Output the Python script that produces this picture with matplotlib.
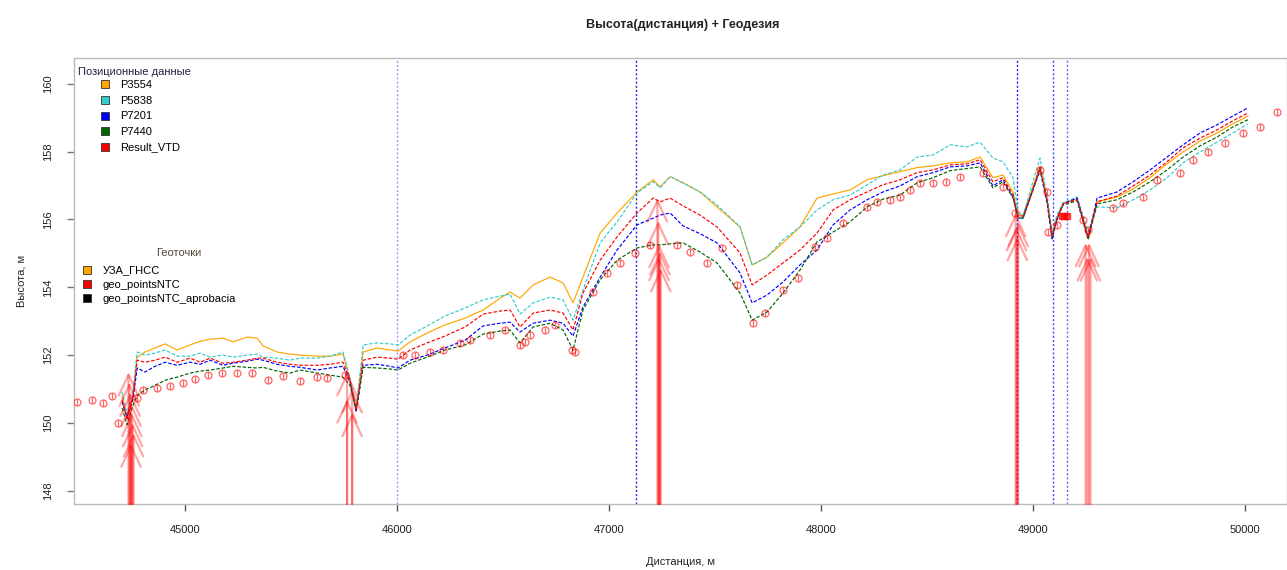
import matplotlib
matplotlib.use("Agg")
import matplotlib.pyplot as plt
from matplotlib.lines import Line2D

plt.rcParams['font.family'] = ['Liberation Sans', 'DejaVu Sans']

# ---- Positional data (distance, m) shared by all height profiles ----
distance = [44703, 44726, 44755, 44774, 44811, 44858, 44906, 44962, 45024, 45071,
            45118, 45179, 45226, 45292, 45340, 45368, 45434, 45495, 45542, 45623,
            45684, 45745, 45778, 45807, 45840, 45906, 45967, 46005, 46061, 46142,
            46226, 46321, 46406, 46486, 46533, 46580, 46642, 46722, 46783, 46830,
            46877, 46958, 47038, 47132, 47208, 47241, 47288, 47349, 47429, 47509,
            47618, 47675, 47745, 47821, 47901, 47981, 48057, 48137, 48217, 48292,
            48373, 48453, 48528, 48609, 48689, 48750, 48811, 48858, 48906, 48929,
            48953, 48995, 49033, 49066, 49090, 49113, 49142, 49208, 49260, 49302,
            49396, 49472, 49552, 49632, 49708, 49788, 49868, 49943, 50014]

h_P3554 = [150.79, 150.17, 150.82, 151.94, 152.09, 152.21, 152.33, 152.15, 152.30, 152.41,
           152.47, 152.50, 152.39, 152.53, 152.50, 152.27, 152.09, 152.03, 152.00, 151.97,
           151.97, 152.03, 151.26, 150.44, 152.09, 152.21, 152.15, 152.12, 152.39, 152.65,
           152.89, 153.09, 153.33, 153.68, 153.86, 153.68, 154.07, 154.30, 154.13, 153.54,
           154.30, 155.60, 156.19, 156.81, 157.17, 156.96, 157.26, 157.08, 156.81, 156.37,
           155.78, 154.66, 154.89, 155.31, 155.78, 156.63, 156.75, 156.87, 157.17, 157.29,
           157.41, 157.53, 157.58, 157.67, 157.70, 157.84, 157.23, 157.31, 156.81, 156.10,
           156.13, 156.87, 157.58, 156.58, 155.52, 156.04, 156.49, 156.60, 155.49, 156.52,
           156.66, 156.90, 157.23, 157.64, 157.99, 158.31, 158.55, 158.82, 159.05]

h_P5838 = [150.91, 150.26, 150.97, 152.09, 152.00, 152.06, 152.15, 151.97, 151.97, 152.06,
           151.94, 152.00, 151.94, 152.00, 152.03, 151.94, 151.91, 151.85, 151.91, 151.91,
           151.97, 152.09, 151.32, 150.44, 152.30, 152.36, 152.33, 152.30, 152.59, 152.86,
           153.15, 153.39, 153.63, 153.74, 153.80, 153.21, 153.54, 153.71, 153.63, 153.03,
           153.92, 155.31, 155.93, 156.78, 157.11, 156.93, 157.26, 157.08, 156.81, 156.43,
           155.78, 154.66, 154.89, 155.40, 155.78, 156.28, 156.58, 156.72, 157.02, 157.31,
           157.46, 157.84, 157.90, 158.20, 158.14, 158.28, 157.81, 157.70, 157.23, 156.22,
           156.10, 157.02, 157.81, 156.72, 155.63, 156.13, 156.49, 156.66, 155.63, 156.37,
           156.34, 156.58, 156.87, 157.23, 157.67, 157.99, 158.28, 158.55, 158.82]

h_P7201 = [150.62, 150.17, 150.73, 151.62, 151.50, 151.67, 151.79, 151.70, 151.79, 151.73,
           151.85, 151.70, 151.76, 151.82, 151.88, 151.85, 151.73, 151.67, 151.64, 151.56,
           151.62, 151.67, 151.20, 150.32, 151.70, 151.73, 151.67, 151.62, 151.85, 152.00,
           152.21, 152.44, 152.86, 152.94, 152.97, 152.68, 152.94, 153.03, 152.94, 152.56,
           153.42, 154.30, 155.10, 155.84, 156.04, 156.13, 156.19, 155.81, 155.58, 155.31,
           154.42, 153.54, 153.77, 154.16, 154.66, 155.10, 155.84, 156.28, 156.58, 156.81,
           156.99, 157.26, 157.38, 157.55, 157.58, 157.67, 156.99, 157.17, 156.66, 156.04,
           156.04, 156.78, 157.46, 156.49, 155.43, 155.99, 156.46, 156.63, 155.46, 156.63,
           156.81, 157.11, 157.46, 157.84, 158.20, 158.55, 158.79, 159.05, 159.29]

h_P7440 = [150.44, 149.95, 150.53, 150.82, 150.97, 151.11, 151.26, 151.35, 151.47, 151.53,
           151.56, 151.62, 151.67, 151.64, 151.62, 151.64, 151.53, 151.47, 151.56, 151.47,
           151.41, 151.35, 151.11, 150.38, 151.64, 151.62, 151.59, 151.56, 151.76, 151.94,
           152.15, 152.30, 152.62, 152.71, 152.74, 152.36, 152.83, 152.94, 152.74, 152.15,
           153.33, 154.22, 154.80, 155.16, 155.25, 155.25, 155.28, 155.31, 155.04, 154.72,
           153.83, 153.03, 153.27, 153.83, 154.51, 155.34, 155.63, 155.93, 156.37, 156.60,
           156.72, 157.08, 157.23, 157.44, 157.50, 157.55, 156.93, 157.11, 156.63, 156.04,
           156.04, 156.81, 157.50, 156.55, 155.49, 156.01, 156.43, 156.55, 155.40, 156.46,
           156.58, 156.81, 157.11, 157.46, 157.84, 158.17, 158.43, 158.73, 158.94]

h_Result_VTD = [150.68, 150.09, 150.82, 151.85, 151.79, 151.85, 151.94, 151.79, 151.91, 151.79,
                151.91, 151.76, 151.79, 151.85, 151.91, 151.91, 151.79, 151.73, 151.70, 151.70,
                151.73, 151.79, 151.26, 150.38, 151.85, 151.94, 151.91, 151.88, 152.15, 152.36,
                152.56, 152.83, 153.21, 153.30, 153.33, 152.83, 153.24, 153.33, 153.24, 152.74,
                153.83, 154.80, 155.49, 156.19, 156.63, 156.52, 156.63, 156.40, 156.13, 155.78,
                155.01, 154.07, 154.36, 154.72, 155.10, 155.60, 156.28, 156.58, 156.81, 157.02,
                157.17, 157.38, 157.46, 157.61, 157.64, 157.76, 157.11, 157.23, 156.72, 156.10,
                156.10, 156.81, 157.53, 156.58, 155.52, 156.04, 156.46, 156.58, 155.46, 156.52,
                156.69, 156.99, 157.31, 157.70, 158.11, 158.40, 158.64, 158.91, 159.14]

series_names = ["P3554", "P5838", "P7201", "P7440", "Result_VTD"]
series_colors = ["#FFA500", "#33CCCC", "#0000FF", "#006400", "#FF0000"]

# ---- Geodetic points (geo_pointsNTC) ----
geo_x = [44491, 44561, 44613, 44656, 44684, 44774, 44802,
         44868, 44929, 44991, 45047, 45108, 45175, 45245, 45316, 45392, 45462, 45542,
         45623, 45670, 45755,
         46028, 46085, 46156, 46217, 46297, 46344, 46439, 46509, 46580, 46604, 46627,
         46698, 46745, 46825, 46840,
         46925, 46991, 47052, 47123, 47193, 47321, 47382, 47462, 47533, 47604, 47679,
         47736, 47821, 47892, 47972, 48028, 48104,
         48217, 48264, 48325, 48373, 48420, 48467, 48528, 48590, 48656, 48764, 48858,
         48915, 49033, 49066, 49071, 49113, 49236, 49260, 49377, 49424, 49519, 49585,
         49693, 49755, 49825, 49906, 49991, 50071, 50151]
geo_h = [150.62, 150.68, 150.59, 150.79, 150.00, 150.73, 150.97,
         151.03, 151.08, 151.17, 151.29, 151.41, 151.47, 151.47, 151.47, 151.26, 151.38, 151.23,
         151.35, 151.32, 151.41,
         152.00, 152.00, 152.09, 152.15, 152.36, 152.44, 152.59, 152.74, 152.30, 152.39, 152.59,
         152.74, 152.89, 152.15, 152.09,
         153.86, 154.42, 154.72, 155.01, 155.25, 155.25, 155.04, 154.72, 155.16, 154.07, 152.94,
         153.24, 153.92, 154.27, 155.19, 155.46, 155.90,
         156.37, 156.52, 156.58, 156.66, 156.87, 157.08, 157.08, 157.11, 157.26, 157.38, 156.96,
         156.19, 157.46, 156.81, 155.63, 155.84, 155.99, 155.69, 156.34, 156.49, 156.66, 157.17,
         157.38, 157.76, 157.99, 158.26, 158.55, 158.73, 159.17]

# Approbation points shown as filled squares
apr_x = [49136, 49148, 49160]
apr_h = [156.10, 156.10, 156.10]

# ---- Geodetic marks drawn as arrows from the bottom of the plot ----
arrow_x = [44733, 44737, 44741, 44745, 44749, 44753, 44757, 44745,
           45764, 45764, 45788, 45788,
           47228, 47232, 47236, 47240, 47244, 47236,
           48918, 48922, 48926, 48930,
           49248, 49256, 49264, 49271]
arrow_top = [151.50, 151.20, 150.90, 150.60, 150.30, 150.00, 149.70, 149.40,
             151.50, 150.70, 151.00, 150.30,
             156.63, 155.96, 155.28, 155.07, 154.57, 154.90,
             156.19, 155.78, 155.49, 155.90,
             155.31, 154.89, 155.31, 154.89]

# ---- Reference stations (vertical dotted lines) ----
station_x = [46000, 47125, 48925, 49092, 49160]
station_colors = ["#9A9AFF", "#2222EE", "#2222EE", "#4444FF", "#6666FF"]

x_ticks = [45000, 46000, 47000, 48000, 49000, 50000]
y_ticks = [148, 150, 152, 154, 156, 158, 160]

fig = plt.figure(figsize=(12.87, 5.70), dpi=100)
ax = fig.add_axes([74 / 1287, 66 / 570, 1213 / 1287, 446 / 570])
ax.set_xlim(44476, 50198)
ax.set_ylim(147.61, 160.76)

for xs, c in zip(station_x, station_colors):
    ax.axvline(xs, color=c, lw=1.0, ls=(0, (1.5, 1.5)), zorder=1)

line_styles = ["-", (0, (3, 1.5)), (0, (3, 1.5)), (0, (3, 1.5)), (0, (3, 1.5))]
for h, c, ls in zip([h_P3554, h_P5838, h_P7201, h_P7440, h_Result_VTD],
                    series_colors, line_styles):
    ax.plot(distance, h, color=c, lw=0.85, ls=ls, zorder=3)

ax.plot(geo_x, geo_h, ls="", marker="o", ms=5, mfc="none", mec="#FF0000",
        mew=0.9, alpha=0.6, zorder=4)
ax.plot(geo_x, geo_h, ls="", marker="|", ms=5, mec="#FF0000",
        mew=0.9, alpha=0.6, zorder=4)
ax.plot(apr_x, apr_h, ls="", marker="s", ms=4, color="#FF0000", alpha=0.7, zorder=4)

base = ax.get_ylim()[0]
for xa, ya in zip(arrow_x, arrow_top):
    ax.annotate("", xy=(xa, ya), xytext=(xa, base),
                arrowprops=dict(arrowstyle="->,head_length=1.5,head_width=0.7",
                                color=(1, 0, 0, 0.35), lw=1.6,
                                shrinkA=0, shrinkB=0, mutation_scale=10),
                zorder=5)

# axes styling
for sp in ax.spines.values():
    sp.set_color("#BBBBBB")
    sp.set_linewidth(1.0)
ax.set_xticks(x_ticks)
ax.set_xticklabels([str(v) for v in x_ticks])
ax.set_yticks(y_ticks)
ax.set_yticklabels([str(v) for v in y_ticks], rotation=90, va="center")
ax.tick_params(axis="x", direction="out", length=5, width=1, color="#555555",
               labelsize=8, pad=10, labelcolor="#222222")
ax.tick_params(axis="y", direction="out", length=5, width=1, color="#777777",
               labelsize=8, pad=10, labelcolor="#222222")

ax.set_xlabel("Дистанция, м", fontsize=8, labelpad=16, color="#222222")
ax.set_ylabel("Высота, м", fontsize=8, labelpad=12, color="#222222")
fig.text(683 / 1287, 1 - 25 / 570, "Высота(дистанция) + Геодезия",
         ha="center", va="center", fontsize=9, fontweight="bold", color="#222222")

# legends
handles1 = [Line2D([], [], ls="", marker="s", ms=6, mfc=c, mec="#333333", mew=0.6)
            for c in series_colors]
leg1 = ax.legend(handles1, series_names, loc="upper left",
                 bbox_to_anchor=(0.021, 0.95), frameon=False, fontsize=8,
                 handlelength=1.0, handletextpad=0.9, labelspacing=0.5,
                 borderpad=0, borderaxespad=0)
ax.add_artist(leg1)
ax.text(0.0035, 0.968, "Позиционные данные", transform=ax.transAxes,
        fontsize=8, ha="left", va="center", color="#222244")

geo_names = ["УЗА_ГНСС", "geo_pointsNTC", "geo_pointsNTC_aprobacia"]
geo_colors = ["#FFA500", "#FF0000", "#000000"]
handles2 = [Line2D([], [], ls="", marker="s", ms=6, mfc=c, mec="#333333", mew=0.6)
            for c in geo_colors]
ax.legend(handles2, geo_names, loc="upper left",
          bbox_to_anchor=(0.006, 0.535), frameon=False, fontsize=8,
          handlelength=1.0, handletextpad=0.9, labelspacing=0.4,
          borderpad=0, borderaxespad=0)
ax.text(0.086, 0.563, "Геоточки", transform=ax.transAxes,
        fontsize=8, ha="center", va="center", color="#554433")

fig.savefig("out.png", dpi=100)
